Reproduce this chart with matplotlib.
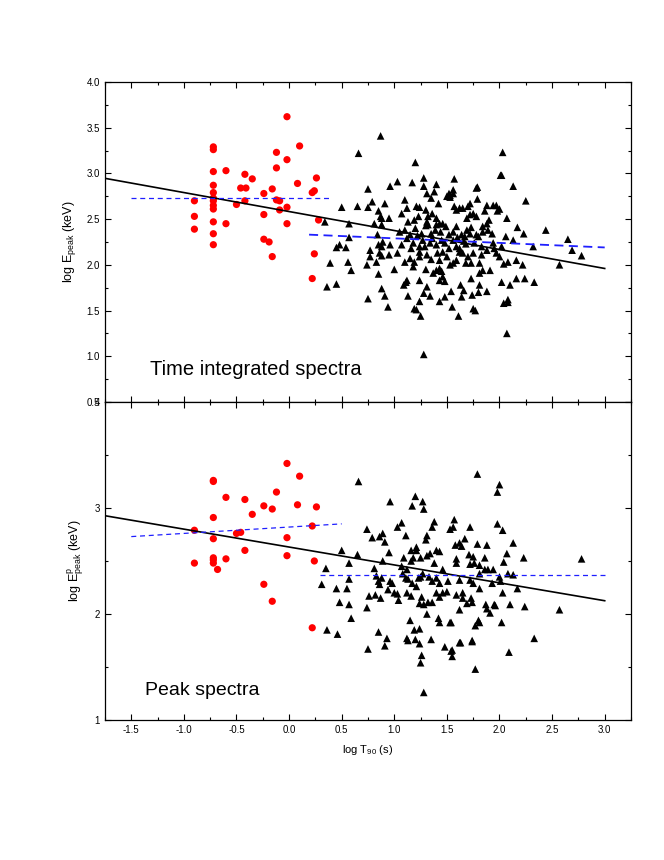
import numpy as np
import matplotlib
matplotlib.use("Agg")
import matplotlib.pyplot as plt
from matplotlib.ticker import MultipleLocator, FormatStrFormatter

plt.rcParams['font.family'] = ['Liberation Sans', 'DejaVu Sans']
plt.rcParams['mathtext.fontset'] = 'custom'
plt.rcParams['mathtext.rm'] = 'Liberation Sans'
plt.rcParams['mathtext.default'] = 'regular'

# ---------- Datos ----------
# panel superior: espectro integrado en tiempo
top_red = np.array([
    (-0.90, 2.70), (-0.90, 2.53), (-0.90, 2.39),
    (-0.72, 3.29), (-0.72, 3.26), (-0.72, 3.02), (-0.72, 2.87), (-0.72, 2.79), (-0.72, 2.73),
    (-0.72, 2.70), (-0.72, 2.65), (-0.72, 2.61), (-0.72, 2.47), (-0.72, 2.34), (-0.72, 2.22),
    (-0.60, 3.03), (-0.60, 2.45), (-0.50, 2.66), (-0.46, 2.84), (-0.41, 2.84), (-0.42, 2.99),
    (-0.42, 2.70), (-0.35, 2.94), (-0.24, 2.78), (-0.24, 2.55), (-0.24, 2.28), (-0.19, 2.25),
    (-0.16, 2.09), (-0.16, 2.83), (-0.12, 3.23), (-0.12, 3.06), (-0.12, 2.71), (-0.09, 2.70),
    (-0.09, 2.60), (-0.02, 3.62), (-0.02, 3.15), (-0.02, 2.63), (-0.02, 2.45), (0.08, 2.89),
    (0.10, 3.30), (0.22, 2.79), (0.24, 2.81), (0.26, 2.95), (0.28, 2.49), (0.24, 2.12), (0.22, 1.85),
])

top_black = np.array([
    (0.87, 3.41), (0.66, 3.22), (1.20, 3.12), (2.03, 3.23), (2.01, 2.98), (2.02, 2.98), (2.13, 2.86),
    (2.25, 2.70), (2.44, 2.38), (2.65, 2.28), (2.69, 2.16), (2.78, 2.10), (2.57, 2.00), (2.33, 1.81),
    (2.24, 1.85), (2.16, 1.85), (2.10, 1.78), (2.02, 1.81), (2.08, 1.62), (2.08, 1.59), (2.04, 1.58),
    (2.07, 1.25), (2.22, 2.00), (2.16, 2.05), (2.32, 2.20), (2.23, 2.34), (2.17, 2.41), (2.13, 2.27),
    (2.07, 2.51), (2.06, 2.31), (2.00, 2.61), (1.97, 2.65), (1.94, 2.65), (1.98, 2.59), (1.88, 2.65),
    (1.79, 2.72), (1.78, 2.84), (1.79, 2.85), (1.72, 2.67), (1.72, 2.55), (1.65, 2.62), (1.62, 2.62),
    (1.57, 2.64), (1.56, 2.82), (1.56, 2.78), (1.53, 2.76), (1.57, 2.94), (1.40, 2.88), (1.38, 2.80),
    (1.28, 2.95), (1.28, 2.86), (1.17, 2.90), (1.03, 2.91), (0.96, 2.86), (0.75, 2.83), (0.50, 2.63),
    (0.65, 2.64), (0.75, 2.63), (0.79, 2.69), (0.91, 2.67), (0.85, 2.59), (0.87, 2.53), (0.88, 2.51),
    (0.95, 2.51), (0.81, 2.45), (0.88, 2.44), (0.57, 2.45), (0.34, 2.47), (0.57, 2.30), (0.48, 2.22),
    (0.45, 2.19), (0.54, 2.19), (0.39, 2.02), (0.56, 2.03), (0.59, 1.94), (0.36, 1.76), (0.45, 1.79),
    (0.75, 1.63), (0.85, 1.90), (0.88, 1.74), (0.91, 1.66), (0.94, 1.54), (1.00, 1.95), (0.74, 2.00),
    (0.83, 2.03), (0.77, 2.09), (0.77, 2.16), (0.86, 2.13), (0.88, 2.10), (0.85, 2.22), (0.88, 2.20),
    (0.84, 2.33), (0.89, 2.25), (0.95, 2.11), (0.96, 2.22), (1.03, 2.13), (1.07, 2.22), (1.05, 2.36),
    (1.10, 2.71), (1.12, 2.62), (1.07, 2.56), (1.13, 2.47), (1.19, 2.49), (1.21, 2.64), (1.24, 2.63),
    (1.30, 2.60), (1.32, 2.53), (1.36, 2.56), (1.40, 2.51), (1.42, 2.67), (1.40, 2.44), (1.43, 2.45),
    (1.46, 2.45), (1.49, 2.42), (1.30, 2.43), (1.32, 2.44), (1.39, 2.38), (1.35, 2.34), (1.26, 2.34),
    (1.22, 2.32), (1.15, 2.33), (1.12, 2.29), (1.18, 2.24), (1.24, 2.20), (1.29, 2.20), (1.34, 2.24),
    (1.40, 2.22), (1.45, 2.27), (1.48, 2.24), (1.56, 2.36), (1.59, 2.42), (1.64, 2.33), (1.67, 2.31),
    (1.69, 2.38), (1.72, 2.34), (1.78, 2.33), (1.80, 2.31), (1.84, 2.36), (1.88, 2.45), (1.89, 2.38),
    (1.93, 2.34), (1.84, 2.42), (1.78, 2.53), (1.75, 2.56), (1.69, 2.51), (1.83, 2.20), (1.76, 2.24),
    (1.94, 2.24), (2.02, 2.20), (1.97, 2.13), (2.00, 2.09), (2.08, 2.03), (2.04, 2.01), (1.95, 2.18),
    (1.88, 2.16), (1.83, 2.11), (1.75, 2.13), (1.70, 2.09), (1.65, 2.13), (1.62, 2.14), (1.59, 2.05),
    (1.68, 2.02), (1.73, 2.02), (1.81, 2.02), (1.84, 1.94), (1.91, 1.94), (1.81, 1.91), (1.73, 1.85),
    (1.81, 1.78), (1.88, 1.71), (1.80, 1.70), (1.74, 1.67), (1.75, 1.52), (1.77, 1.50), (1.64, 1.65),
    (1.66, 1.72), (1.63, 1.78), (1.54, 1.71), (1.55, 1.54), (1.61, 1.44), (1.48, 1.65), (1.43, 1.60),
    (1.34, 1.66), (1.28, 1.69), (1.31, 1.76), (1.24, 1.60), (1.19, 1.52), (1.21, 1.51), (1.25, 1.44),
    (1.13, 1.66), (1.11, 1.81), (1.12, 1.83), (1.09, 1.78), (1.24, 1.83), (1.30, 1.95), (1.37, 1.91),
    (1.40, 1.94), (1.43, 1.96), (1.45, 1.93), (1.46, 1.87), (1.43, 1.83), (1.48, 1.82), (1.53, 2.00),
    (1.56, 2.02), (1.50, 2.09), (1.43, 2.05), (1.35, 2.06), (1.31, 2.11), (1.24, 2.09), (1.19, 2.03),
    (1.18, 1.98), (1.15, 2.07), (1.10, 2.03), (1.24, 2.14), (1.41, 2.13), (1.46, 2.14), (1.52, 2.18),
    (1.59, 2.20), (1.62, 2.18), (1.68, 2.23), (1.56, 2.27), (1.70, 2.64), (1.86, 2.59), (1.90, 2.49),
    (1.31, 2.78), (1.35, 2.73), (1.50, 2.75), (1.52, 2.78), (1.53, 2.74), (1.23, 2.53), (1.31, 2.47),
    (1.59, 2.60), (1.28, 1.02), (1.20, 2.40), (1.27, 2.27), (1.36, 2.29), (1.44, 2.36), (1.52, 2.33),
    (1.60, 2.30), (1.66, 2.26), (1.73, 2.41), (1.10, 2.38), (1.16, 2.18),
])

# panel inferior: espectro del pico
bot_red = np.array([
    (-0.90, 2.79), (-0.90, 2.48), (-0.72, 3.26), (-0.72, 3.25), (-0.72, 2.91), (-0.72, 2.71),
    (-0.72, 2.53), (-0.72, 2.51), (-0.72, 2.48), (-0.68, 2.42), (-0.60, 3.10), (-0.60, 2.52),
    (-0.50, 2.76), (-0.46, 2.77), (-0.42, 3.08), (-0.42, 2.60), (-0.35, 2.94), (-0.24, 2.28),
    (-0.24, 3.02), (-0.16, 2.99), (-0.16, 2.12), (-0.12, 3.15), (-0.02, 3.42), (-0.02, 2.72),
    (-0.02, 2.55), (0.08, 3.03), (0.10, 3.30), (0.22, 2.83), (0.24, 2.50), (0.26, 3.01), (0.22, 1.87),
])

bot_black = np.array([
    (1.79, 3.32), (2.00, 3.22), (1.98, 3.15), (0.66, 3.25), (0.96, 3.06), (1.20, 3.11), (1.27, 3.06),
    (1.17, 3.02), (1.28, 2.99), (1.57, 2.89), (1.38, 2.87), (1.53, 2.80), (1.56, 2.82), (1.36, 2.82),
    (1.07, 2.86), (1.03, 2.82), (1.72, 2.82), (1.98, 2.85), (2.03, 2.79), (0.74, 2.80), (0.79, 2.72),
    (0.86, 2.73), (0.89, 2.76), (1.11, 2.74), (0.91, 2.68), (1.31, 2.74), (1.30, 2.70), (1.21, 2.63),
    (1.21, 2.60), (1.58, 2.65), (1.62, 2.67), (1.64, 2.64), (1.67, 2.71), (1.79, 2.66), (1.88, 2.65),
    (2.13, 2.67), (2.07, 2.57), (2.23, 2.53), (2.04, 2.49), (2.78, 2.52), (0.50, 2.60), (0.65, 2.56),
    (0.57, 2.48), (0.35, 2.43), (0.31, 2.28), (0.57, 2.33), (0.45, 2.24), (0.55, 2.24), (0.48, 2.11),
    (0.57, 2.09), (0.59, 1.96), (0.36, 1.85), (0.46, 1.81), (0.74, 2.06), (0.76, 2.17), (0.82, 2.18),
    (0.87, 2.15), (0.85, 1.83), (0.93, 1.77), (0.91, 1.70), (0.75, 1.67), (1.15, 1.94), (1.19, 1.85),
    (1.24, 1.86), (1.12, 1.77), (1.13, 1.75), (1.20, 1.76), (1.24, 1.72), (1.26, 1.61), (1.25, 1.54),
    (1.28, 1.26), (1.35, 1.76), (1.48, 1.69), (1.54, 1.65), (1.55, 1.60), (1.62, 1.73), (1.63, 1.73),
    (1.74, 1.75), (1.77, 1.48), (1.80, 1.94), (1.81, 1.92), (1.77, 1.89), (1.53, 1.92), (1.42, 1.96),
    (1.43, 1.92), (1.31, 2.00), (2.02, 1.92), (2.09, 1.64), (2.33, 1.77), (2.24, 2.07), (2.10, 2.09),
    (1.96, 2.08), (2.03, 2.20), (1.91, 2.01), (1.87, 2.09), (1.88, 2.05), (2.17, 2.24), (2.57, 2.04),
    (2.01, 2.31), (1.93, 2.29), (1.81, 2.24), (1.73, 2.15), (1.74, 2.11), (1.69, 2.10), (1.65, 2.15),
    (1.62, 2.04), (1.65, 2.20), (1.62, 2.32), (1.72, 2.32), (1.75, 2.29), (1.81, 2.38), (1.86, 2.42),
    (1.89, 2.42), (1.94, 2.42), (1.81, 2.46), (1.76, 2.48), (1.72, 2.47), (1.75, 2.54), (1.71, 2.56),
    (1.86, 2.53), (1.59, 2.48), (1.46, 2.42), (1.51, 2.31), (1.59, 2.18), (1.46, 2.20), (1.50, 2.21),
    (1.43, 2.16), (1.40, 2.20), (1.36, 2.11), (1.32, 2.11), (1.26, 2.16), (1.24, 2.10), (1.28, 2.09),
    (1.16, 2.17), (1.12, 2.20), (1.21, 2.26), (1.17, 2.29), (1.11, 2.34), (1.08, 2.38), (1.04, 2.13),
    (1.03, 2.19), (1.00, 2.20), (0.96, 2.31), (0.98, 2.29), (0.94, 2.23), (0.88, 2.34), (0.83, 2.36),
    (0.85, 2.31), (0.86, 2.28), (0.81, 2.43), (0.89, 2.50), (0.95, 2.58), (1.07, 2.45), (1.12, 2.42),
    (1.13, 2.33), (1.23, 2.34), (1.25, 2.35), (1.27, 2.38), (1.33, 2.35), (1.36, 2.31), (1.40, 2.34),
    (1.43, 2.29), (1.38, 2.48), (1.34, 2.57), (1.31, 2.55), (1.18, 2.53), (1.16, 2.50), (1.09, 2.53),
    (1.16, 2.60), (1.25, 2.53), (1.40, 2.60), (1.43, 2.59), (1.59, 2.52), (2.13, 2.37), (2.08, 2.38),
    (2.00, 2.35), (1.55, 1.66), (1.74, 1.74), (1.54, 1.92), (1.95, 2.09),
])

# ajustes (extremos de cada recta)
top_fit_all_x = [-1.75, 3.0]
top_fit_all_y = [2.946, 1.960]
top_fit_short_x = [-1.50, 0.40]
top_fit_short_y = [2.735, 2.735]
top_fit_long_x = [0.19, 3.0]
top_fit_long_y = [2.33, 2.19]

bot_fit_all_x = [-1.75, 3.0]
bot_fit_all_y = [2.927, 2.125]
bot_fit_short_x = [-1.50, 0.50]
bot_fit_short_y = [2.73, 2.85]
bot_fit_long_x = [0.29, 3.0]
bot_fit_long_y = [2.37, 2.37]

# ---------- Figura ----------
fig = plt.figure(figsize=(6.64, 8.6), dpi=100)
ax1 = fig.add_axes([0.1581, 0.5326, 0.7922, 0.3721])
ax2 = fig.add_axes([0.1581, 0.1628, 0.7922, 0.3698])

BLUE = '#1f1fff'

for ax in (ax1, ax2):
    ax.set_xlim(-1.75, 3.25)
    ax.xaxis.set_major_locator(MultipleLocator(0.5))
    ax.xaxis.set_minor_locator(MultipleLocator(0.25))
    ax.xaxis.set_major_formatter(FormatStrFormatter('%.1f'))
    ax.tick_params(which='both', direction='in', top=True, right=True,
                   labelsize=7, width=0.8)
    ax.tick_params(which='major', length=4)
    ax.tick_params(which='minor', length=2.5)
    for sp in ax.spines.values():
        sp.set_linewidth(0.9)

# panel superior
ax1.scatter(top_black[:, 0], top_black[:, 1], marker='^', s=30, color='black',
            edgecolors='none', zorder=3)
ax1.scatter(top_red[:, 0], top_red[:, 1], marker='o', s=27, color='#ff0000',
            edgecolors='none', zorder=3)
ax1.plot(top_fit_all_x, top_fit_all_y, color='black', lw=1.2, zorder=4)
ax1.plot(top_fit_short_x, top_fit_short_y, color=BLUE, lw=0.9, ls=(0, (4, 3)), zorder=4)
ax1.plot(top_fit_long_x, top_fit_long_y, color=BLUE, lw=1.3, ls=(0, (5, 3)), zorder=4)
ax1.set_ylim(0.5, 4.0)
ax1.yaxis.set_major_locator(MultipleLocator(0.5))
ax1.yaxis.set_minor_locator(MultipleLocator(0.25))
ax1.yaxis.set_major_formatter(FormatStrFormatter('%.1f'))
ax1.tick_params(labelbottom=False)
ax1.set_ylabel('log E$_{peak}$ (keV)', fontsize=9, labelpad=6)
ax1.text(-1.32, 0.85, 'Time integrated spectra', fontsize=14.5, va='center', ha='left')

# panel inferior
ax2.scatter(bot_black[:, 0], bot_black[:, 1], marker='^', s=30, color='black',
            edgecolors='none', zorder=3)
ax2.scatter(bot_red[:, 0], bot_red[:, 1], marker='o', s=27, color='#ff0000',
            edgecolors='none', zorder=3)
ax2.plot(bot_fit_all_x, bot_fit_all_y, color='black', lw=1.2, zorder=4)
ax2.plot(bot_fit_short_x, bot_fit_short_y, color=BLUE, lw=0.9, ls=(0, (4, 3)), zorder=4)
ax2.plot(bot_fit_long_x, bot_fit_long_y, color=BLUE, lw=0.9, ls=(0, (4, 3)), zorder=4)
ax2.set_ylim(1, 4)
ax2.yaxis.set_major_locator(MultipleLocator(1))
ax2.yaxis.set_minor_locator(MultipleLocator(0.5))
ax2.set_ylabel('log E$^{p}_{peak}$ (keV)', fontsize=9, labelpad=6)
ax2.set_xlabel('log T$_{90}$ (s)', fontsize=8, labelpad=6)
ax2.text(-1.37, 1.28, 'Peak spectra', fontsize=14, va='center', ha='left')

fig.savefig('out.png', dpi=100)
